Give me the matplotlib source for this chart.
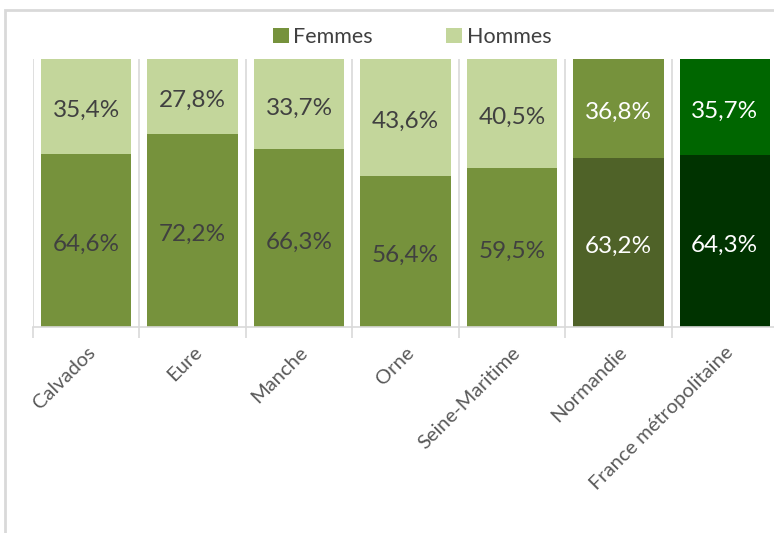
import matplotlib
matplotlib.use('agg')
import matplotlib.pyplot as plt
from matplotlib.patches import Rectangle
import numpy as np

# data
categories = ['Calvados', 'Eure', 'Manche', 'Orne', 'Seine-Maritime',
              'Normandie', 'France métropolitaine']
femmes = [64.6, 72.2, 66.3, 56.4, 59.5, 63.2, 64.3]
hommes = [35.4, 27.8, 33.7, 43.6, 40.5, 36.8, 35.7]

col_femmes = ['#76923C'] * 5 + ['#4F6228', '#003300']
col_hommes = ['#C3D69B'] * 5 + ['#76923C', '#006600']
col_text = ['#404040'] * 5 + ['white', 'white']

plt.rcParams['font.family'] = ['Lato', 'DejaVu Sans']

fig = plt.figure(figsize=(7.74, 5.33), dpi=100)
ax = fig.add_axes([33 / 774, 1 - 327 / 533, 745 / 774, 268 / 533])

# frame around the chart area
fig.patches.append(Rectangle((5 / 774, -0.1), 1.2, 1 - 10 / 533 + 0.1,
                             transform=fig.transFigure, fill=False,
                             edgecolor='#D9D9D9', linewidth=2, zorder=0))

x = np.arange(len(categories))
w = 0.85
bf = ax.bar(x, femmes, w, color=col_femmes, label='Femmes', zorder=2)
bh = ax.bar(x, hommes, w, bottom=femmes, color=col_hommes, label='Hommes', zorder=2)

for i in range(len(categories)):
    ax.text(x[i], femmes[i] / 2 - 1.5, f'{femmes[i]:.1f}%'.replace('.', ','),
            ha='center', va='center', fontsize=17.5, color=col_text[i], zorder=3)
    ax.text(x[i], femmes[i] + hommes[i] / 2 - 1.5, f'{hommes[i]:.1f}%'.replace('.', ','),
            ha='center', va='center', fontsize=17.5, color=col_text[i], zorder=3)

ax.set_xlim(-0.5, len(categories) - 0.5)
ax.set_ylim(0, 100)
ax.set_yticks([])
ax.set_xticks(x)
ax.set_xticklabels(categories, rotation=45, ha='right', rotation_mode='anchor',
                   fontsize=14.5, color='#595959')
ax.set_xticks(np.arange(len(categories) + 1) - 0.5, minor=True)
ax.tick_params(axis='x', which='major', length=0, pad=12)
ax.tick_params(axis='x', which='minor', length=8, color='#D9D9D9', width=1.2)
ax.grid(which='minor', axis='x', color='#D9D9D9', linewidth=1.2, zorder=0)
for s in ['top', 'right', 'left']:
    ax.spines[s].set_visible(False)
ax.spines['bottom'].set_color('#D9D9D9')
ax.spines['bottom'].set_linewidth(1.2)

leg = fig.legend(handles=[bf, bh], loc='center', bbox_to_anchor=(412 / 774, 1 - 37 / 533),
                 ncol=2, frameon=False, fontsize=15.5, handlelength=0.75, handleheight=0.75,
                 columnspacing=3.4, handletextpad=0.2)
for t in leg.get_texts():
    t.set_color('#404040')

fig.savefig('out.png', dpi=100)
